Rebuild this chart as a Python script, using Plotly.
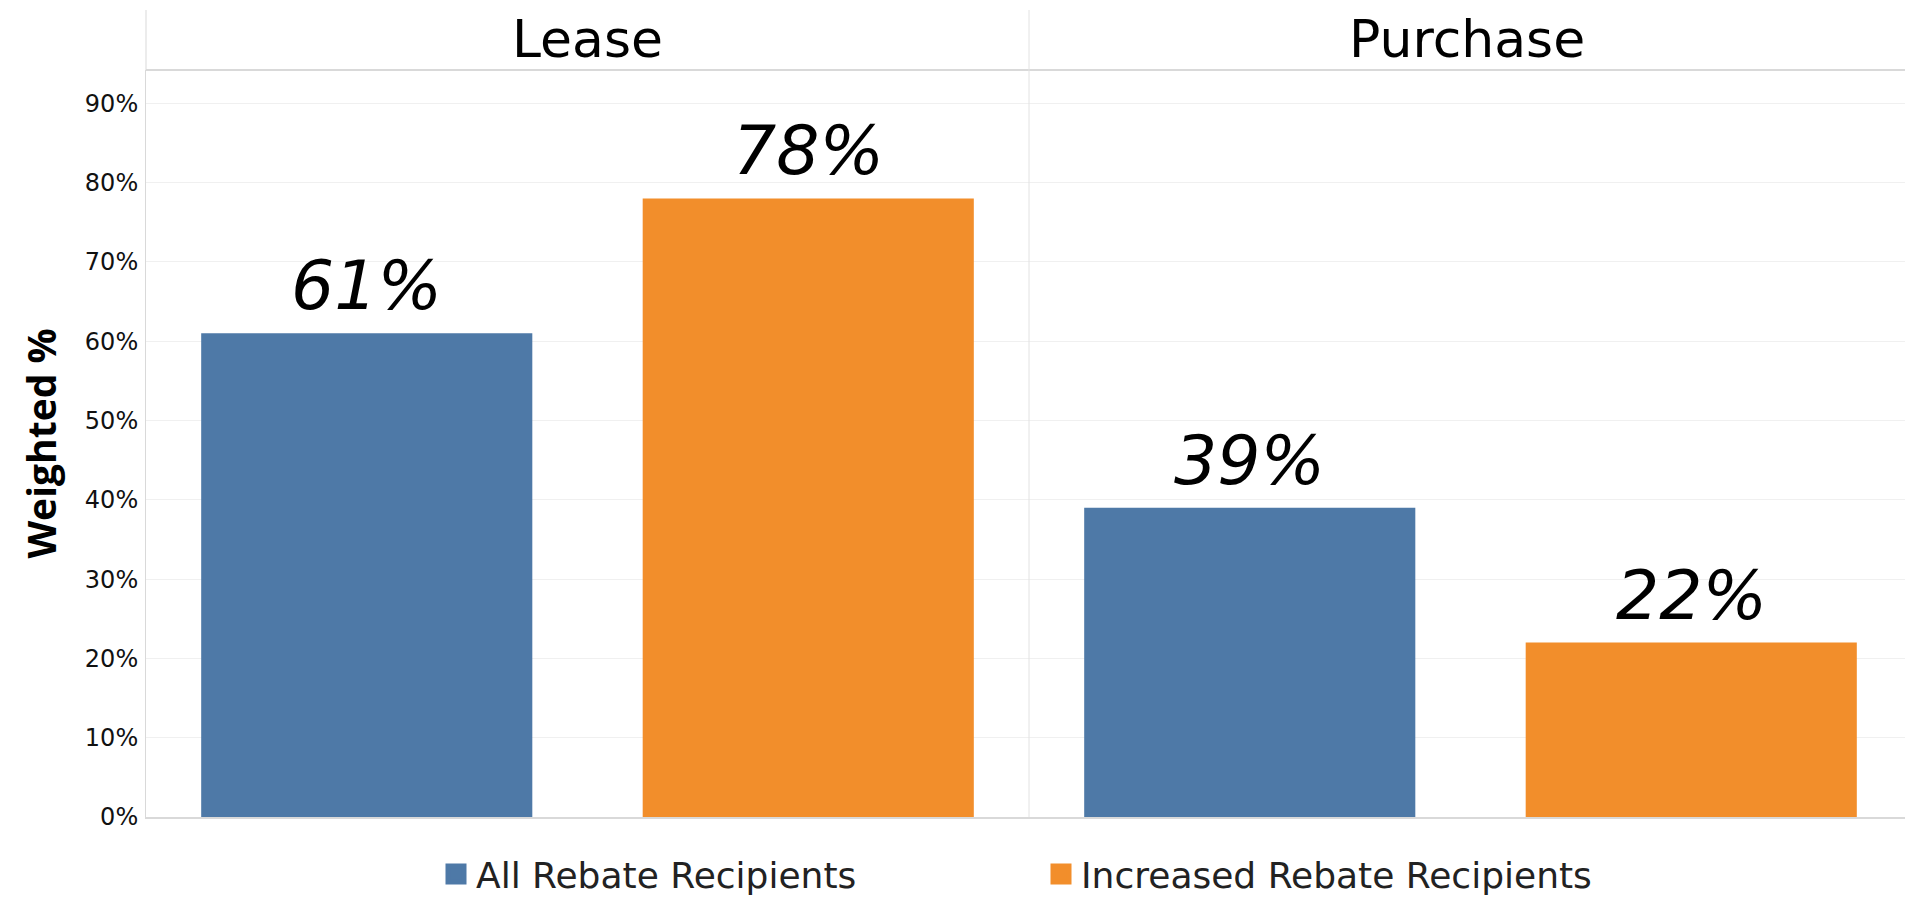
import plotly.graph_objects as go

# ---------------- data ----------------
panels = ["Lease", "Purchase"]
series = ["All Rebate Recipients", "Increased Rebate Recipients"]
colors = ["#4e79a7", "#f28e2b"]
lease_values = [61, 78]
purchase_values = [39, 22]
y_tick_values = [0, 10, 20, 30, 40, 50, 60, 70, 80, 90]
y_tick_labels = ["0%", "10%", "20%", "30%", "40%", "50%", "60%", "70%", "80%", "90%"]
y_title = "Weighted %"

# ---------------- layout geometry ----------------
W, H = 1905, 898
ML, MR, MT, MB = 146, 0, 70, 81
plot_w = W - ML - MR
plot_h = H - MT - MB
panel_w = 883
split = panel_w / plot_w
header_top = 1 + 60 / plot_h

AX_COLOR = "#d9d9d9"
GRID_COLOR = "#f0f0f0"
LABEL_FONT = dict(family="DejaVu Sans", size=68, style="italic", color="#000000")

fig = go.Figure()

values_by_panel = [lease_values, purchase_values]
axis_ids = ["x", "x2"]
for vals, ax in zip(values_by_panel, axis_ids):
    for name, col, v in zip(series, colors, vals):
        fig.add_trace(go.Bar(
            x=[name], y=[v], xaxis=ax, yaxis="y",
            name=name, showlegend=False, width=0.75,
            marker=dict(color=col, line=dict(width=0)),
            hovertemplate="%{x}: %{y}%<extra></extra>",
        ))
        # value label above each bar
        fig.add_annotation(
            text=f"{v}%", xref=ax, yref="y", x=name, y=v,
            xanchor="center", yanchor="bottom", yshift=6, showarrow=False,
            font=LABEL_FONT,
        )

# legend entries
for name, col in zip(series, colors):
    fig.add_trace(go.Scatter(
        x=[None], y=[None], mode="markers", name=name, showlegend=True,
        marker=dict(symbol="square", size=16, color=col, line=dict(color=col, width=5)),
    ))

xaxis_common = dict(
    type="category", categoryorder="array", categoryarray=series,
    showticklabels=False, showgrid=False, zeroline=False, ticks="",
    showline=True, linecolor=AX_COLOR, linewidth=2, fixedrange=True,
)

fig.update_layout(
    width=W, height=H,
    margin=dict(l=ML, r=MR, t=MT, b=MB, pad=0, autoexpand=False),
    paper_bgcolor="white", plot_bgcolor="white",
    barmode="overlay",
    font=dict(family="DejaVu Sans", color="#000000"),
    xaxis=dict(domain=[0, split], range=[-0.5, 1.5], anchor="y", **xaxis_common),
    xaxis2=dict(domain=[split, 1], range=[-0.5, -0.5 + 2 * (plot_w - panel_w) / panel_w],
                anchor="y", **xaxis_common),
    yaxis=dict(
        range=[0, 94.2], tickvals=y_tick_values, ticktext=y_tick_labels,
        showgrid=True, gridcolor=GRID_COLOR, gridwidth=1, zeroline=False,
        showline=True, linecolor=AX_COLOR, linewidth=1, ticks="",
        ticklabelstandoff=2, tickfont=dict(family="DejaVu Sans", size=24, color="#111111"),
        title=dict(text=y_title, standoff=16,
                   font=dict(family="Open Sans", size=39, weight="bold", color="#000000")),
        fixedrange=True,
    ),
    legend=dict(
        orientation="h", xref="paper", x=(436 - ML) / plot_w, xanchor="left",
        yref="container", y=(H - 874) / H, yanchor="middle",
        font=dict(family="DejaVu Sans", size=36, color="#222222"),
        entrywidth=560, entrywidthmode="pixels", itemwidth=30,
        bgcolor="rgba(0,0,0,0)", borderwidth=0,
    ),
    showlegend=True,
)

# header strip lines
fig.add_shape(type="line", xref="paper", yref="paper", x0=0, x1=1, y0=1, y1=1,
              line=dict(color=AX_COLOR, width=2), layer="above")
fig.add_shape(type="line", xref="paper", yref="paper", x0=0, x1=0, y0=1, y1=header_top,
              line=dict(color=AX_COLOR, width=1), layer="above")
fig.add_shape(type="line", xref="paper", yref="paper", x0=split, x1=split, y0=0, y1=header_top,
              line=dict(color="#e2e2e2", width=1), layer="above")

# panel headers
for panel, ax in zip(panels, axis_ids):
    fig.add_annotation(
        text=panel, xref=f"{ax} domain", x=0.5, yref="paper", y=1,
        xanchor="center", yanchor="bottom", yshift=-1, showarrow=False,
        font=dict(family="DejaVu Sans", size=52, color="#000000"),
    )

fig.write_html(
    "out.html",
    config={"displayModeBar": False},
    post_script="document.body.style.margin='0';document.body.style.overflow='hidden';",
)
